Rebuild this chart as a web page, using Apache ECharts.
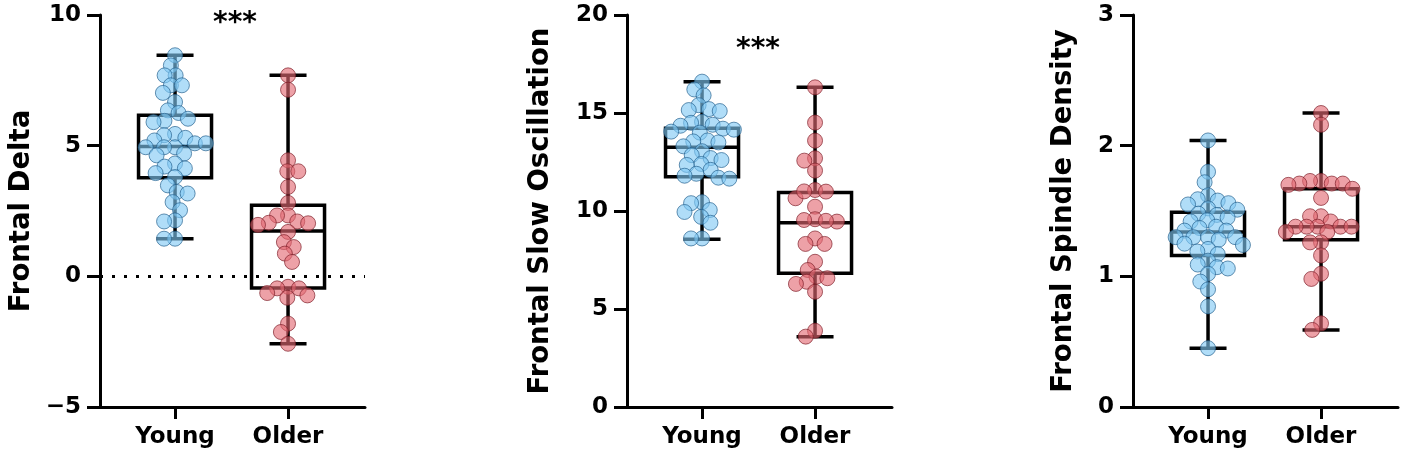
<!DOCTYPE html>
<html><head><meta charset="utf-8">
<script src="https://cdn.jsdelivr.net/npm/echarts@6/dist/echarts.min.js"></script>
<style>html,body{margin:0;padding:0;background:#fff}#c{width:1403px;height:468px}</style>
</head><body><div id="c"></div>
<script>
const categories = ['Young', 'Older'];
const axisNames = ['Frontal Delta', 'Frontal Slow Oscillation', 'Frontal Spindle Density'];
const yTicks = [[-5, 10, 5], [0, 20, 5], [0, 3, 1]];

// Panel 1: Frontal Delta
const deltaYoung = [8.46, 8.07, 7.69, 7.69, 7.31, 7.31, 7.02, 6.67, 6.35, 6.25, 6.03, 5.95, 5.9, 5.45, 5.4, 5.3, 5.2, 5.09, 5.09, 4.94, 4.94, 4.94, 4.7, 4.63, 4.32, 4.2, 4.13, 3.95, 3.8, 3.48, 3.23, 3.17, 2.84, 2.53, 2.14, 2.1, 1.44, 1.44];
const deltaOlder = [7.69, 7.14, 4.44, 4.02, 4.02, 3.42, 2.81, 2.33, 2.33, 2.1, 2.05, 2.03, 1.97, 1.7, 1.31, 1.12, 0.87, 0.55, -0.4, -0.46, -0.46, -0.64, -0.73, -0.82, -1.81, -2.13, -2.58];
const deltaBoxYoung = [1.44, 3.77, 4.97, 6.16, 8.46];
const deltaBoxOlder = [-2.58, -0.45, 1.73, 2.72, 7.69];

// Panel 2: Frontal Slow Oscillation
const soYoung = [16.6, 16.2, 15.9, 15.4, 15.2, 15.15, 15.1, 14.55, 14.5, 14.4, 14.35, 14.2, 14.15, 14.05, 14.0, 13.6, 13.55, 13.5, 13.3, 13.05, 12.85, 12.7, 12.6, 12.4, 12.35, 12.1, 11.9, 11.8, 11.7, 11.65, 10.45, 10.4, 10.05, 9.95, 9.7, 9.4, 8.6, 8.6];
const soOlder = [16.31, 14.51, 13.59, 12.69, 12.57, 12.06, 11.07, 10.99, 10.65, 10.22, 9.58, 9.54, 9.46, 8.6, 8.32, 8.32, 7.41, 6.99, 6.65, 6.57, 6.39, 6.28, 5.88, 3.89, 3.59, 11.0, 9.5];
const soBoxYoung = [8.56, 11.75, 13.25, 14.22, 16.6];
const soBoxOlder = [3.59, 6.82, 9.4, 10.94, 16.31];

// Panel 3: Frontal Spindle Density
const spYoung = [2.04, 1.8, 1.72, 1.62, 1.59, 1.58, 1.56, 1.55, 1.52, 1.51, 1.48, 1.47, 1.45, 1.43, 1.42, 1.38, 1.37, 1.35, 1.35, 1.3, 1.3, 1.3, 1.3, 1.28, 1.25, 1.24, 1.21, 1.19, 1.17, 1.12, 1.09, 1.07, 1.06, 1.02, 0.96, 0.9, 0.77, 0.45];
const spOlder = [2.25, 2.16, 1.73, 1.73, 1.71, 1.71, 1.71, 1.7, 1.67, 1.6, 1.46, 1.46, 1.42, 1.38, 1.38, 1.38, 1.38, 1.38, 1.34, 1.34, 1.26, 1.26, 1.16, 1.02, 0.98, 0.64, 0.59];
const spBoxYoung = [0.45, 1.16, 1.34, 1.49, 2.04];
const spBoxOlder = [0.59, 1.28, 1.38, 1.67, 2.25];

const significance = ['***', '***', ''];

const panels = [
  {young: deltaYoung, older: deltaOlder, boxY: deltaBoxYoung, boxO: deltaBoxOlder},
  {young: soYoung, older: soOlder, boxY: soBoxYoung, boxO: soBoxOlder},
  {young: spYoung, older: spOlder, boxY: spBoxYoung, boxO: spBoxOlder}
];

// layout
const gridLefts = [100, 627, 1133];
const nameGaps = [64, 72, 55];
const gridTop = 15, gridH = 392, gridW = 265;
const xMin = 0.336, xMax = 2.681;
const pxPerX = gridW / (xMax - xMin);
const FONT = '"DejaVu Sans", Arial, sans-serif';

function swarm(values, pxPerY, dist) {
  const idx = values.map((v, i) => i).sort((a, b) => values[b] - values[a]);
  const placed = [];
  const out = new Array(values.length);
  idx.forEach(i => {
    const y = values[i] * pxPerY;
    const near = placed.filter(p => Math.abs(p.y - y) < dist);
    const cands = [0];
    near.forEach(p => {
      const dx = Math.sqrt(dist * dist - (p.y - y) * (p.y - y));
      cands.push(p.x + dx + 0.01, p.x - dx - 0.01);
    });
    cands.sort((a, b) => Math.abs(a) - Math.abs(b) || a - b);
    let best = 0;
    for (const c of cands) {
      if (near.every(p => (p.x - c) * (p.x - c) + (p.y - y) * (p.y - y) >= dist * dist - 0.01)) { best = c; break; }
    }
    placed.push({x: best, y});
    out[i] = best;
  });
  return out;
}

function renderBox(params, api) {
  const x = api.value(0);
  const pMin = api.coord([x, api.value(1)]);
  const pQ1 = api.coord([x, api.value(2)]);
  const pMd = api.coord([x, api.value(3)]);
  const pQ3 = api.coord([x, api.value(4)]);
  const pMax = api.coord([x, api.value(5)]);
  const hw = 36.5, cw = 18.5, cx = pMd[0];
  const st = {stroke: '#000', lineWidth: 3.5, fill: null};
  const line = (x1, y1, x2, y2) => ({type: 'line', shape: {x1, y1, x2, y2}, style: st});
  return {type: 'group', children: [
    line(cx, pMax[1], cx, pQ3[1]),
    line(cx, pQ1[1], cx, pMin[1]),
    line(cx - cw, pMax[1], cx + cw, pMax[1]),
    line(cx - cw, pMin[1], cx + cw, pMin[1]),
    {type: 'rect', shape: {x: cx - hw, y: pQ3[1], width: 2 * hw, height: pQ1[1] - pQ3[1]}, style: st},
    line(cx - hw, pMd[1], cx + hw, pMd[1])
  ]};
}

const grids = [], xAxes = [], yAxes = [], series = [], graphics = [];
panels.forEach((p, k) => {
  const [ymin, ymax, yint] = yTicks[k];
  const pxPerY = gridH / (ymax - ymin);
  grids.push({left: gridLefts[k], top: gridTop, width: gridW, height: gridH});
  xAxes.push({
    type: 'value', gridIndex: k, min: xMin, max: xMax,
    axisLine: {onZero: false, lineStyle: {color: '#000', width: 3}},
    axisTick: {show: true, customValues: [1, 2], length: 12, lineStyle: {color: '#000', width: 3}},
    axisLabel: {customValues: [1, 2], formatter: v => categories[Math.round(v) - 1] || '', color: '#000', fontFamily: FONT, fontWeight: 'bold', fontSize: 23, margin: 19},
    splitLine: {show: false}
  });
  yAxes.push({
    type: 'value', gridIndex: k, min: ymin, max: ymax, interval: yint,
    name: axisNames[k], nameLocation: 'middle', nameGap: nameGaps[k],
    nameTextStyle: {color: '#000', fontFamily: FONT, fontWeight: 'bold', fontSize: 27.5},
    axisLine: {show: true, onZero: false, lineStyle: {color: '#000', width: 3}},
    axisTick: {show: true, length: 13, lineStyle: {color: '#000', width: 3}},
    axisLabel: {color: '#000', fontFamily: FONT, fontWeight: 'bold', fontSize: 23, margin: 19,
      formatter: v => (v < 0 ? '\u2212' + Math.abs(v) : String(v))},
    splitLine: {show: false}
  });
  const boxSeries = {
    type: 'custom', xAxisIndex: k, yAxisIndex: k, z: 2, renderItem: renderBox,
    data: [[1].concat(p.boxY), [2].concat(p.boxO)], silent: true
  };
  if (k === 0) {
    boxSeries.markLine = {silent: true, symbol: 'none', label: {show: false},
      lineStyle: {color: '#000', width: 3, type: [3, 9], dashOffset: 0},
      data: [{yAxis: 0}]};
  }
  series.push(boxSeries);
  const offY = swarm(p.young, pxPerY, 11);
  const offO = swarm(p.older, pxPerY, 11);
  series.push({
    type: 'scatter', xAxisIndex: k, yAxisIndex: k, z: 3, symbolSize: 15,
    itemStyle: {color: 'rgba(128,200,244,0.78)', borderColor: 'rgba(35,95,140,0.85)', borderWidth: 1},
    data: p.young.map((v, i) => [1 + offY[i] / pxPerX, v])
  });
  series.push({
    type: 'scatter', xAxisIndex: k, yAxisIndex: k, z: 3, symbolSize: 15,
    itemStyle: {color: 'rgba(226,104,114,0.78)', borderColor: 'rgba(125,30,40,0.85)', borderWidth: 1},
    data: p.older.map((v, i) => [2 + offO[i] / pxPerX, v])
  });
});

graphics.push({type: 'text', x: 235, y: 24, style: {text: significance[0], font: 'bold 28px ' + FONT, fill: '#000', align: 'center', verticalAlign: 'middle'}});
graphics.push({type: 'text', x: 758, y: 50, style: {text: significance[1], font: 'bold 28px ' + FONT, fill: '#000', align: 'center', verticalAlign: 'middle'}});

const chart = echarts.init(document.getElementById('c'), null, {renderer: 'canvas'});
chart.setOption({
  animation: false,
  backgroundColor: '#fff',
  grid: grids, xAxis: xAxes, yAxis: yAxes, series: series, graphic: graphics
});
</script></body></html>
